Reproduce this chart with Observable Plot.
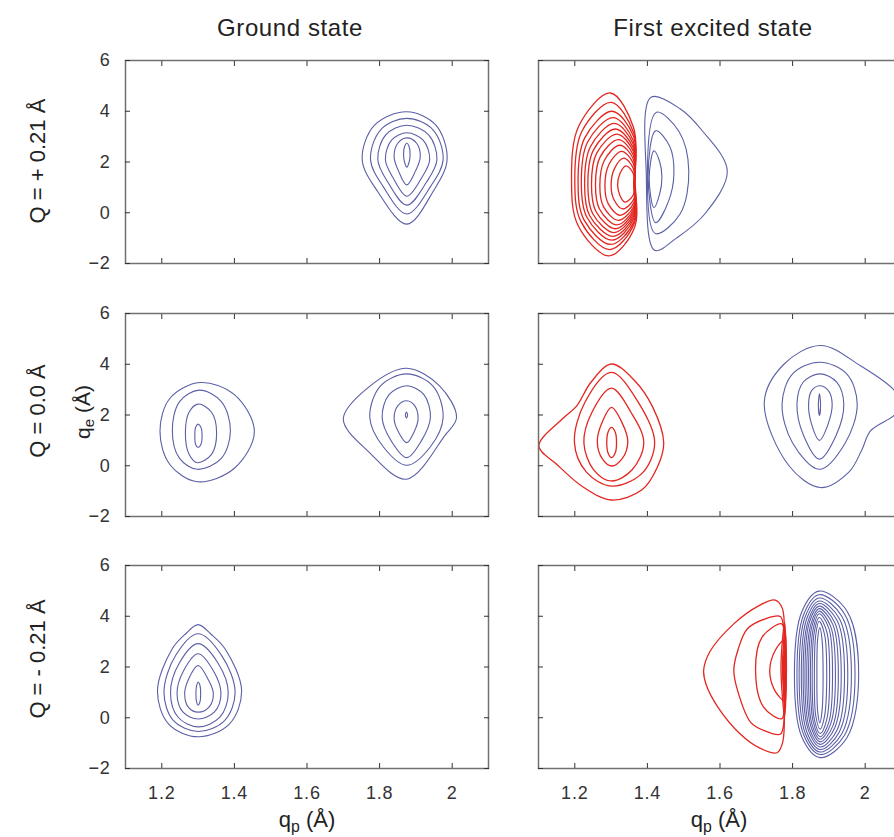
<!DOCTYPE html>
<html>
<head>
<meta charset="utf-8">
<script src="https://cdn.jsdelivr.net/npm/d3@7"></script>
<script src="https://cdn.jsdelivr.net/npm/@observablehq/plot@0.6"></script>
<style>
  html, body { margin: 0; padding: 0; background: #fff; }
  #fig { position: relative; width: 894px; height: 837px; overflow: hidden;
         font-family: "Liberation Sans", Arial, Helvetica, sans-serif; color: #222; }
  .panel { position: absolute; }
  .lbl { position: absolute; white-space: nowrap; line-height: 1; }
</style>
</head>
<body>
<div id="fig"></div>
<script>
// Axis ticks and labels
const xTicks = [1.2, 1.4, 1.6, 1.8, 2.0];
const yTicks = [-2, 0, 2, 4, 6];
const columnTitles = ["Ground state", "First excited state"];
const rowLabels = ["Q = + 0.21 Å", "Q = 0.0 Å", "Q = - 0.21 Å"];

// Contour rings, each a closed list of [q_p, q_e] points (Å), outermost first.
// Q = +0.21 Å, ground state
const groundPlusBlue = [
  [[1.875,3.98],[1.955,3.45],[1.986,2.1],[1.947,0.83],[1.875,-0.45],[1.795,0.83],[1.752,2.1],[1.786,3.45]],
  [[1.875,3.72],[1.947,3.27],[1.975,2.1],[1.94,1.03],[1.875,-0.05],[1.81,1.03],[1.775,2.1],[1.803,3.27]],
  [[1.875,3.45],[1.935,3.07],[1.958,2.1],[1.929,1.2],[1.875,0.3],[1.823,1.2],[1.795,2.1],[1.817,3.07]],
  [[1.875,3.15],[1.92,2.86],[1.938,2.1],[1.916,1.38],[1.875,0.65],[1.837,1.38],[1.816,2.1],[1.833,2.86]],
  [[1.875,2.95],[1.902,2.74],[1.912,2.2],[1.899,1.65],[1.875,1.1],[1.852,1.65],[1.84,2.2],[1.85,2.74]],
  [[1.875,2.75],[1.881,2.62],[1.884,2.3],[1.881,1.98],[1.875,1.8],[1.869,1.98],[1.866,2.3],[1.869,2.62]]
];
// Q = +0.21 Å, first excited state
const excitedPlusRed = [
  [[1.298,4.72],[1.362,3.35],[1.366,1.3],[1.364,-0.6],[1.294,-1.70],[1.209,-0.5],[1.191,1.3],[1.211,3.42]],
  [[1.300,4.35],[1.362,3.15],[1.365,1.3],[1.363,-0.45],[1.296,-1.45],[1.217,-0.35],[1.200,1.3],[1.219,3.19]],
  [[1.303,4.00],[1.362,3.0],[1.365,1.2],[1.363,-0.35],[1.299,-1.25],[1.225,-0.27],[1.209,1.2],[1.227,2.94]],
  [[1.306,3.75],[1.361,2.85],[1.364,1.2],[1.362,-0.25],[1.302,-1.08],[1.233,-0.17],[1.218,1.2],[1.235,2.78]],
  [[1.309,3.52],[1.361,2.7],[1.364,1.1],[1.362,-0.15],[1.305,-0.93],[1.241,-0.12],[1.227,1.1],[1.243,2.6]],
  [[1.312,3.30],[1.361,2.55],[1.364,1.1],[1.362,-0.05],[1.308,-0.78],[1.249,-0.03],[1.236,1.1],[1.251,2.46]],
  [[1.316,3.10],[1.361,2.42],[1.364,1.1],[1.362,0.05],[1.312,-0.63],[1.258,0.06],[1.246,1.1],[1.26,2.34]],
  [[1.320,2.88],[1.361,2.28],[1.364,1.1],[1.362,0.15],[1.316,-0.48],[1.268,0.15],[1.257,1.1],[1.27,2.2]],
  [[1.324,2.66],[1.361,2.12],[1.364,1.05],[1.362,0.25],[1.320,-0.30],[1.279,0.24],[1.269,1.05],[1.281,2.05]],
  [[1.329,2.42],[1.361,1.95],[1.364,1.05],[1.362,0.38],[1.325,-0.10],[1.292,0.36],[1.283,1.05],[1.294,1.9]],
  [[1.335,2.15],[1.361,1.75],[1.364,1.05],[1.362,0.52],[1.332,0.15],[1.308,0.51],[1.300,1.05],[1.309,1.73]],
  [[1.341,1.85],[1.361,1.55],[1.363,1.1],[1.361,0.70],[1.338,0.42],[1.324,0.69],[1.318,1.1],[1.325,1.57]]
];
const excitedPlusBlue = [
  [[1.41,4.55],[1.49,4.1],[1.55,3.25],[1.62,1.65],[1.558,-0.05],[1.48,-1.0],[1.42,-1.48],[1.397,1.5]],
  [[1.425,3.96],[1.487,3.2],[1.514,1.65],[1.49,-0.05],[1.422,-0.82],[1.40,1.5]],
  [[1.423,3.23],[1.462,2.6],[1.473,1.5],[1.458,0.45],[1.423,-0.39],[1.402,1.45]],
  [[1.418,2.44],[1.434,2.0],[1.44,1.4],[1.434,0.75],[1.418,0.2],[1.405,1.35]]
];
// Q = 0.0 Å, ground state (two wells)
const groundZeroBlueLeft = [
  [[1.305,3.28],[1.40,2.8],[1.455,1.35],[1.40,-0.1],[1.298,-0.63],[1.222,0.05],[1.195,1.35],[1.222,2.65]],
  [[1.303,2.98],[1.364,2.53],[1.389,1.38],[1.364,0.29],[1.298,-0.14],[1.249,0.29],[1.229,1.38],[1.249,2.53]],
  [[1.30,2.43],[1.337,2.11],[1.351,1.3],[1.337,0.45],[1.298,0.12],[1.275,0.45],[1.265,1.3],[1.275,2.11]],
  [[1.30,1.64],[1.308,1.51],[1.311,1.18],[1.308,0.85],[1.30,0.72],[1.293,0.85],[1.291,1.18],[1.293,1.51]]
];
const groundZeroBlueRight = [
  [[1.874,3.84],[1.965,3.15],[2.012,1.9],[1.98,1.2],[1.874,-0.53],[1.77,0.55],[1.70,1.84],[1.77,3.1]],
  [[1.875,3.62],[1.947,3.14],[1.975,1.9],[1.94,0.75],[1.875,0.02],[1.81,0.75],[1.773,1.9],[1.802,3.14]],
  [[1.875,3.15],[1.922,2.8],[1.94,1.9],[1.915,0.98],[1.875,0.32],[1.832,0.98],[1.807,1.9],[1.826,2.8]],
  [[1.875,2.56],[1.897,2.36],[1.906,1.85],[1.895,1.33],[1.875,0.91],[1.852,1.33],[1.84,1.85],[1.85,2.36]],
  [[1.874,2.12],[1.877,2.0],[1.874,1.88],[1.871,2.0]]
];
// Q = 0.0 Å, first excited state
const excitedZeroRed = [
  [[1.301,4.01],[1.365,3.35],[1.415,2.3],[1.445,0.91],[1.427,-0.07],[1.385,-0.95],[1.301,-1.35],[1.225,-0.86],[1.15,0.06],[1.101,0.78],[1.17,1.9],[1.205,2.35],[1.245,3.3]],
  [[1.301,3.68],[1.375,2.5],[1.42,0.91],[1.385,-0.3],[1.301,-0.8],[1.232,-0.25],[1.199,0.91],[1.228,2.5]],
  [[1.301,3.06],[1.355,2.1],[1.39,0.91],[1.358,-0.16],[1.301,-0.6],[1.252,-0.16],[1.225,0.91],[1.247,2.1]],
  [[1.301,2.3],[1.33,1.7],[1.346,0.95],[1.33,0.27],[1.301,-0.01],[1.276,0.27],[1.262,0.95],[1.275,1.7]],
  [[1.301,1.51],[1.311,1.34],[1.315,0.9],[1.311,0.49],[1.301,0.32],[1.292,0.49],[1.288,0.9],[1.292,1.34]]
];
const excitedZeroBlue = [
  [[1.877,4.74],[1.987,3.94],[2.081,2.96],[2.10,2.45],[2.081,2.0],[2.015,1.38],[1.99,0.6],[1.955,-0.25],[1.877,-0.86],[1.79,0.0],[1.722,2.5],[1.776,4.0]],
  [[1.874,4.08],[1.949,3.62],[1.978,2.43],[1.945,0.9],[1.874,-0.14],[1.80,0.9],[1.771,2.43],[1.80,3.62]],
  [[1.874,3.62],[1.922,3.29],[1.941,2.43],[1.92,1.2],[1.874,0.26],[1.83,1.2],[1.812,2.43],[1.829,3.29]],
  [[1.874,3.15],[1.899,2.95],[1.909,2.43],[1.898,1.65],[1.874,1.0],[1.852,1.65],[1.844,2.43],[1.852,2.95]],
  [[1.874,2.84],[1.877,2.4],[1.874,1.97],[1.871,2.4]]
];
// Q = -0.21 Å, ground state
const groundMinusBlue = [
  [[1.30,3.67],[1.335,3.3],[1.375,2.7],[1.42,1.05],[1.386,-0.25],[1.30,-0.75],[1.219,-0.25],[1.188,1.05],[1.228,2.7],[1.265,3.3]],
  [[1.30,3.31],[1.365,2.45],[1.402,1.0],[1.373,-0.11],[1.30,-0.54],[1.232,-0.11],[1.206,1.0],[1.238,2.45]],
  [[1.30,2.92],[1.355,2.15],[1.383,0.98],[1.36,0.02],[1.30,-0.36],[1.245,0.02],[1.224,0.98],[1.248,2.15]],
  [[1.30,2.52],[1.342,1.85],[1.363,0.96],[1.345,0.23],[1.30,-0.05],[1.258,0.23],[1.242,0.96],[1.26,1.85]],
  [[1.30,2.06],[1.328,1.5],[1.342,0.95],[1.33,0.42],[1.30,0.22],[1.273,0.42],[1.263,0.95],[1.273,1.5]],
  [[1.30,1.41],[1.305,1.28],[1.307,0.95],[1.305,0.62],[1.30,0.49],[1.296,0.62],[1.294,0.95],[1.296,1.28]]
];
// Q = -0.21 Å, first excited state
const excitedMinusRed = [
  [[1.752,4.64],[1.772,4.3],[1.775,1.8],[1.773,-0.95],[1.757,-1.38],[1.71,-1.2],[1.655,-0.63],[1.595,0.4],[1.562,1.3],[1.555,1.87],[1.572,2.6],[1.638,3.7],[1.705,4.4]],
  [[1.766,3.99],[1.775,3.6],[1.776,1.8],[1.775,-0.3],[1.766,-0.65],[1.72,-0.5],[1.684,-0.17],[1.65,1.0],[1.638,1.87],[1.65,2.7],[1.675,3.5],[1.725,3.9]],
  [[1.77,3.7],[1.777,3.3],[1.778,1.8],[1.777,0.3],[1.77,-0.04],[1.72,0.42],[1.698,1.87],[1.716,3.18]],
  [[1.776,3.05],[1.78,2.6],[1.78,1.2],[1.776,0.69],[1.75,1.1],[1.737,1.87],[1.752,2.65]],
  [[1.778,3.75],[1.782,2.0],[1.778,0.05],[1.768,2.0]],
  [[1.779,3.4],[1.783,2.0],[1.779,0.5],[1.772,2.0]],
  [[1.779,2.9],[1.783,1.9],[1.779,0.9],[1.775,1.9]]
];
const excitedMinusBlue = [
  [[1.873,4.99],[1.95,4.2],[1.982,1.7],[1.95,-0.78],[1.876,-1.57],[1.826,-0.78],[1.805,1.7],[1.826,4.2]],
  [[1.873,4.85],[1.943,4.09],[1.972,1.7],[1.943,-0.69],[1.876,-1.45],[1.831,-0.69],[1.812,1.7],[1.831,4.09]],
  [[1.873,4.72],[1.936,3.99],[1.962,1.7],[1.936,-0.62],[1.876,-1.35],[1.835,-0.62],[1.818,1.7],[1.835,3.99]],
  [[1.873,4.60],[1.929,3.9],[1.952,1.7],[1.929,-0.55],[1.876,-1.25],[1.839,-0.55],[1.824,1.7],[1.839,3.9]],
  [[1.873,4.50],[1.923,3.82],[1.943,1.7],[1.923,-0.47],[1.876,-1.15],[1.843,-0.47],[1.829,1.7],[1.843,3.82]],
  [[1.873,4.40],[1.916,3.75],[1.934,1.7],[1.916,-0.4],[1.876,-1.05],[1.846,-0.4],[1.834,1.7],[1.846,3.75]],
  [[1.873,4.30],[1.911,3.67],[1.926,1.7],[1.911,-0.32],[1.876,-0.95],[1.85,-0.32],[1.839,1.7],[1.85,3.67]],
  [[1.873,4.20],[1.905,3.59],[1.918,1.7],[1.905,-0.24],[1.876,-0.85],[1.853,-0.24],[1.844,1.7],[1.853,3.59]],
  [[1.873,4.10],[1.9,3.52],[1.910,1.7],[1.9,-0.17],[1.876,-0.75],[1.857,-0.17],[1.849,1.7],[1.857,3.52]],
  [[1.873,3.95],[1.894,3.4],[1.902,1.7],[1.894,-0.07],[1.876,-0.62],[1.86,-0.07],[1.854,1.7],[1.86,3.4]],
  [[1.873,3.80],[1.888,3.29],[1.894,1.7],[1.888,0.06],[1.876,-0.45],[1.864,0.06],[1.86,1.7],[1.864,3.29]],
  [[1.875,3.55],[1.881,3.1],[1.884,1.7],[1.881,0.25],[1.875,-0.2],[1.869,0.25],[1.867,1.7],[1.869,3.1]]
];

const BLUE = "#5a5fa6", RED = "#e3261f";

const panels = [
  {col: 0, row: 0, lobes: [{rings: groundPlusBlue, color: BLUE}]},
  {col: 1, row: 0, lobes: [{rings: excitedPlusRed, color: RED}, {rings: excitedPlusBlue, color: BLUE}]},
  {col: 0, row: 1, lobes: [{rings: groundZeroBlueLeft, color: BLUE}, {rings: groundZeroBlueRight, color: BLUE}]},
  {col: 1, row: 1, lobes: [{rings: excitedZeroRed, color: RED}, {rings: excitedZeroBlue, color: BLUE}]},
  {col: 0, row: 2, lobes: [{rings: groundMinusBlue, color: BLUE}]},
  {col: 1, row: 2, lobes: [{rings: excitedMinusRed, color: RED}, {rings: excitedMinusBlue, color: BLUE}]}
];

// Page layout of the 3 x 2 grid (plot-area corners, px)
const frameLeft = [125, 538];
const frameTop = [60, 313, 565];
const frameW = 363, frameH = 203;

const fmtX = d => d === 2 ? "2" : d.toFixed(1);
const fmtY = d => d < 0 ? "\u2212" + (-d) : String(d);

const fig = document.getElementById("fig");

function drawPanel({col, row, lobes}) {
  const mL = col === 0 ? 55 : 4, mR = 4, mT = 4, mB = row === 2 ? 45 : 4;
  const tickOpts = {tickSize: -5, fill: "none", stroke: "#333", label: null};
  const marks = [];
  lobes.forEach(lobe => {
    const rows = lobe.rings.flatMap((ring, ri) => ring.map(([x, y]) => ({x, y, ring: ri})));
    marks.push(Plot.line(rows, {
      x: "x", y: "y", z: "ring", stroke: lobe.color,
      strokeWidth: lobe.color === RED ? 1.3 : 1.1, curve: "catmull-rom-closed", clip: true
    }));
  });
  marks.push(
    Plot.frame({stroke: "#707070", strokeWidth: 1.5}),
    Plot.axisX(xTicks, {anchor: "bottom", ...tickOpts}),
    Plot.axisX(xTicks, {anchor: "top", ...tickOpts}),
    Plot.axisY(yTicks, {anchor: "left", ...tickOpts}),
    Plot.axisY(yTicks, {anchor: "right", ...tickOpts})
  );
  if (row === 2) marks.push(Plot.axisX(xTicks, {anchor: "bottom", tickSize: 0, tickPadding: 18, tickFormat: fmtX, label: null, fill: "#333"}));
  if (col === 0) marks.push(Plot.axisY(yTicks, {anchor: "left", tickSize: 0, tickPadding: 15, tickFormat: fmtY, label: null, fill: "#333"}));

  const svg = Plot.plot({
    width: frameW + mL + mR,
    height: frameH + mT + mB,
    marginLeft: mL, marginRight: mR, marginTop: mT, marginBottom: mB,
    x: {domain: [1.1, 2.1], label: null},
    y: {domain: [-2, 6], label: null},
    style: {fontSize: "18px", letterSpacing: "0.8px", fontFamily: "'Liberation Sans', Arial, sans-serif", background: "transparent", overflow: "visible"},
    marks
  });
  svg.classList.add("panel");
  svg.style.left = (frameLeft[col] - mL) + "px";
  svg.style.top = (frameTop[row] - mT) + "px";
  fig.appendChild(svg);
}
panels.forEach(drawPanel);

function addLabel(html, cx, cy, size, rotate, spacing) {
  const el = document.createElement("div");
  el.className = "lbl";
  el.innerHTML = html;
  el.style.left = cx + "px";
  el.style.top = cy + "px";
  el.style.fontSize = size + "px";
  if (spacing) el.style.letterSpacing = spacing + "px";
  el.style.transform = "translate(-50%, -50%)" + (rotate ? " rotate(-90deg)" : "");
  fig.appendChild(el);
}

const sub = s => `q<sub style="font-size:0.72em;vertical-align:-0.3em">${s}</sub> (Å)`;

// Column titles
addLabel(columnTitles[0], 290, 28, 24, false, 0.6);
addLabel(columnTitles[1], 713, 28, 24, false, 0.6);
// Row labels (rotated)
addLabel(rowLabels[0], 38, 161, 22, true);
addLabel(rowLabels[1], 38, 411, 22, true);
addLabel(rowLabels[2], 38, 659, 22, true);
// Axis titles
addLabel(sub("e"), 84, 412, 21, true);
addLabel(sub("p"), 307, 822, 22);
addLabel(sub("p"), 719, 822, 22);
</script>
</body>
</html>
